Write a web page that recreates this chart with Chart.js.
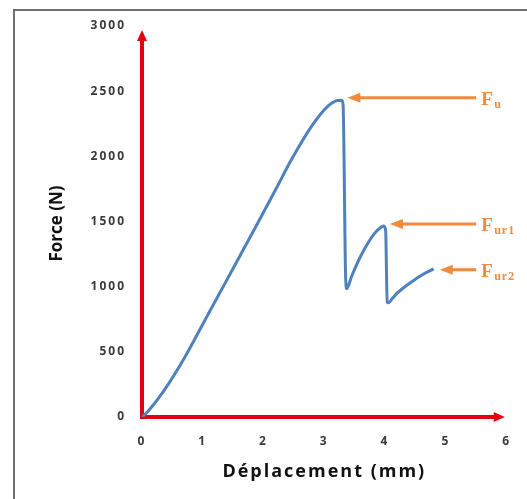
<!DOCTYPE html>
<html>
<head>
<meta charset="utf-8">
<script src="https://cdn.jsdelivr.net/npm/chart.js@4/dist/chart.umd.min.js"></script>
<style>
  html, body { margin: 0; padding: 0; background: #fff; }
  #wrap { position: relative; width: 527px; height: 499px; overflow: hidden; }
  #frame {
    position: absolute; left: 13px; top: 9px; width: 600px; height: 600px;
    border-left: 2px solid #707070; border-top: 2px solid #707070;
  }
  #chart { position: absolute; left: 0; top: 0; }
</style>
</head>
<body>
<div id="wrap">
  <div id="frame"></div>
  <canvas id="chart" width="527" height="499"></canvas>
</div>
<script>
// ── Data (displacement in mm, force in N) ──
const dispMm = [0, 0.1, 0.35, 0.7, 1.0, 1.35, 1.6, 1.89, 2.2, 2.46, 2.79, 3.06, 3.22, 3.29, 3.31,
                3.35, 3.37, 3.45, 3.6, 3.82, 3.94, 3.98, 4.01, 4.035, 4.06, 4.12, 4.2, 4.3, 4.41, 4.6, 4.8];
const forceN = [0, 45, 195, 455, 712, 1012, 1226, 1475, 1745, 1975, 2230, 2385, 2428, 2430, 2390,
                1100, 985, 1080, 1235, 1405, 1458, 1466, 1430, 880, 876, 910, 950, 990, 1028, 1088, 1137];

const xTicks = [0, 1, 2, 3, 4, 5, 6];
const yTicks = [0, 500, 1000, 1500, 2000, 2500, 3000];

// annotation arrows: subscript of F, point on the curve, where the arrow starts
const annoSub    = ["u", "ur1", "ur2"];
const annoTipX   = [3.38, 4.08, 4.9];
const annoTipY   = [2450, 1480, 1130];
const annoTailX  = [5.5, 5.5, 5.5];

const COLORS = {
  curve:  "#4f81bd",
  axis:   "#e3000f",
  anno:   "#f28a3c",
  text:   "#3a3a3a"
};

function arrow(ctx, x1, y1, x2, y2, len, half) {
  const a = Math.atan2(y2 - y1, x2 - x1);
  ctx.beginPath();
  ctx.moveTo(x1, y1);
  ctx.lineTo(x2 - Math.cos(a) * len * 0.6, y2 - Math.sin(a) * len * 0.6);
  ctx.stroke();
  ctx.beginPath();
  ctx.moveTo(x2, y2);
  ctx.lineTo(x2 - Math.cos(a) * len - Math.sin(a) * half, y2 - Math.sin(a) * len + Math.cos(a) * half);
  ctx.lineTo(x2 - Math.cos(a) * len + Math.sin(a) * half, y2 - Math.sin(a) * len - Math.cos(a) * half);
  ctx.closePath();
  ctx.fill();
}

const decor = {
  id: "decor",
  beforeDraw(chart) {
    chart.ctx.letterSpacing = "2px";   // original picture is stretched sideways
  },
  beforeDatasetsDraw(chart) {
    const ctx = chart.ctx, x = chart.scales.x, y = chart.scales.y;
    ctx.save();
    ctx.letterSpacing = "0px";
    const x0 = x.getPixelForValue(0), y0 = y.getPixelForValue(0);
    ctx.strokeStyle = COLORS.axis;
    ctx.fillStyle = COLORS.axis;
    ctx.lineWidth = 4;
    arrow(ctx, x0, y0 + 2, x0, y.getPixelForValue(2970), 11, 5);
    arrow(ctx, x0 - 2, y0, x.getPixelForValue(5.97), y0, 11, 5);
    ctx.restore();
  },
  afterDraw(chart) {
    const ctx = chart.ctx, x = chart.scales.x, y = chart.scales.y;
    ctx.save();
    ctx.letterSpacing = "0px";
    // y axis title
    ctx.translate(57, (chart.chartArea.top + chart.chartArea.bottom) / 2 + 2);
    ctx.rotate(-Math.PI / 2);
    ctx.font = "bold 17px 'Open Sans'";
    ctx.fillStyle = "#111";
    ctx.textAlign = "center";
    ctx.textBaseline = "middle";
    ctx.fillText("Force (N)", 0, 0);
    ctx.restore();

    ctx.save();
    ctx.strokeStyle = COLORS.anno;
    ctx.fillStyle = COLORS.anno;
    ctx.lineWidth = 3;
    annoSub.forEach((sub, i) => {
      const py = y.getPixelForValue(annoTipY[i]);
      const tail = x.getPixelForValue(annoTailX[i]);
      arrow(ctx, tail, py, x.getPixelForValue(annoTipX[i]), py, 13, 5);
      ctx.letterSpacing = "0px";
      ctx.textAlign = "left";
      ctx.textBaseline = "alphabetic";
      ctx.font = "bold 19px 'Liberation Serif'";
      ctx.fillText("F", tail + 5, py + 7);
      ctx.letterSpacing = "1px";
      ctx.font = "bold 12px 'Liberation Serif'";
      ctx.fillText(sub, tail + 18, py + 10);
    });
    ctx.restore();
  }
};

Chart.defaults.font.family = "'Open Sans', sans-serif";

new Chart(document.getElementById("chart"), {
  type: "line",
  data: {
    datasets: [{
      data: dispMm.map((d, i) => ({ x: d, y: forceN[i] })),
      borderColor: COLORS.curve,
      borderWidth: 3,
      pointRadius: 0,
      cubicInterpolationMode: "monotone",
      fill: false
    }]
  },
  options: {
    responsive: false,
    animation: false,
    devicePixelRatio: 1,
    layout: { padding: { left: 20, top: 26, right: 16, bottom: 0 } },
    plugins: { legend: { display: false }, tooltip: { enabled: false } },
    scales: {
      x: {
        type: "linear",
        min: 0, max: 6,
        afterBuildTicks: s => { s.ticks = xTicks.map(v => ({ value: v })); },
        afterFit: s => { s.height = 82; },
        grid: { display: false, drawTicks: false },
        border: { display: false },
        ticks: { padding: 17, color: COLORS.text, font: { size: 12, weight: "bold" }, maxRotation: 0,
                 callback: v => String(v) },
        title: { display: true, text: "Déplacement (mm)", color: "#111",
                 font: { size: 18, weight: "bold" }, padding: { top: 0, bottom: 16 } }
      },
      y: {
        min: 0, max: 3000,
        afterBuildTicks: s => { s.ticks = yTicks.map(v => ({ value: v })); },
        afterFit: s => { s.width = 122; },
        grid: { display: false, drawTicks: false },
        border: { display: false },
        ticks: { padding: 16, color: COLORS.text, font: { size: 12, weight: "bold" },
                 callback: v => String(v) }
      }
    }
  },
  plugins: [decor]
});
</script>
</body>
</html>
